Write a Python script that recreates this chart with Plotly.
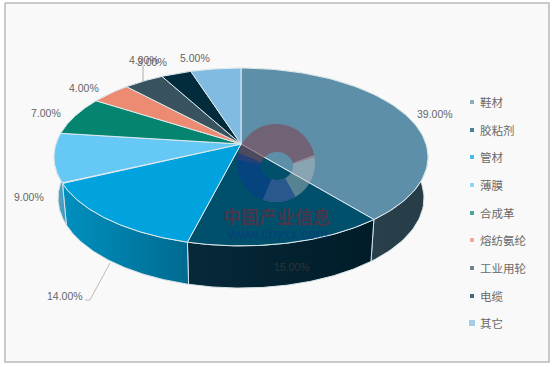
import numpy as np
import plotly.graph_objects as go

categories = ["鞋材", "胶粘剂", "管材", "薄膜", "合成革", "熔纺氨纶", "工业用轮", "电缆", "其它"]
values = [39, 15, 14, 9, 7, 4, 4, 3, 5]
top_colors = ["#5e8fa8", "#00506c", "#00a3dd", "#66c8f5", "#058570", "#ec8a72", "#38525f", "#022c3c", "#82bbe2"]
wall_left = ["#2f4a55", "#06293a", "#0090c0", "#5aa8cc", "#004466", "#aa5555", "#223344", "#001122", "#5588aa"]
wall_right = ["#263c46", "#001c28", "#006a90", "#3f98bc", "#004466", "#aa5555", "#223344", "#001122", "#5588aa"]
label_text = ["39.00%", "15.00%", "14.00%", "9.00%", "7.00%", "4.00%", "4.00%", "3.00%", "5.00%"]
label_x = [435, 292, 65, 29, 46, 84, 144, 152, 195]
label_y = [114, 267, 296, 197, 113, 88, 60, 62, 58]
legend_y = [102, 130, 157, 185, 213, 240, 268, 296, 323]

k = 0.146
APEX_X, TOP_Y, TOP_A, TOP_B = 241, 144, 185, 87
BOT_Y, BOT_A, BOT_B = 185, 181, 88


def proj(theta, y0, a, b):
    u, v = np.sin(theta), np.cos(theta)
    w = 1 + k * v
    return APEX_X + a * u / w, y0 - b * v / w


fig = go.Figure()
edges = np.cumsum([0] + values) / sum(values) * 2 * np.pi

# background frame
fig.add_trace(go.Scatter(x=[5, 549, 549, 5, 5], y=[3, 3, 362, 362, 3], mode="lines", fill="toself",
                         fillcolor="#f9f9f9", line=dict(color="#b9b9b9", width=1.5), hoverinfo="skip"))

# side walls
for i in range(len(values)):
    t = np.linspace(edges[i], edges[i + 1], 80)
    xt, yt = proj(t, TOP_Y, TOP_A, TOP_B)
    xb, yb = proj(t, BOT_Y, BOT_A, BOT_B)
    x = np.r_[xt, xb[::-1], xt[0]]
    y = np.r_[yt, yb[::-1], yt[0]]
    fig.add_trace(go.Scatter(
        x=x, y=y, mode="lines", line=dict(color="#d5e2e6", width=1), fill="toself",
        fillgradient=dict(type="horizontal", start=float(x.min()), stop=float(x.max()),
                          colorscale=[[0, wall_left[i]], [1, wall_right[i]]]),
        hoverinfo="skip"))

# top faces
for i in range(len(values)):
    t = np.linspace(edges[i], edges[i + 1], 80)
    xt, yt = proj(t, TOP_Y, TOP_A, TOP_B)
    fig.add_trace(go.Scatter(
        x=np.r_[APEX_X, xt, APEX_X], y=np.r_[TOP_Y, yt, TOP_Y], mode="lines",
        line=dict(color="#dfeaee", width=1), fill="toself", fillcolor=top_colors[i],
        name=categories[i], hoverinfo="name"))

# watermark ring
ring_parts = [(-85, 82, "rgba(125,70,85,0.6)"), (78, 200, "rgba(190,190,190,0.45)"), (150, 285, "rgba(10,60,140,0.6)")]
for a0, a1, c in ring_parts:
    t = np.radians(np.linspace(a0, a1, 60))
    xo, yo = 276 + 39 * np.sin(t), 163 - 39 * np.cos(t)
    xi, yi = 277 + 16 * np.sin(t), 166 - 14 * np.cos(t)
    fig.add_trace(go.Scatter(x=np.r_[xo, xi[::-1]], y=np.r_[yo, yi[::-1]], mode="none", fill="toself",
                             fillcolor=c, hoverinfo="skip"))

# leader lines
fig.add_trace(go.Scatter(x=[110, 90, 85], y=[263, 300, 300], mode="lines", line=dict(color="#bbb", width=1), hoverinfo="skip"))
fig.add_trace(go.Scatter(x=[143, 143], y=[66, 82], mode="lines", line=dict(color="#aaa", width=1), hoverinfo="skip"))

# legend markers
fig.add_trace(go.Scatter(x=[472] * len(categories), y=legend_y, mode="markers",
                         marker=dict(color=top_colors, symbol="square", size=[5] * 8 + [7]), hoverinfo="skip"))

annots = []
for c, y in zip(categories, legend_y):
    annots.append(dict(x=478, y=y, text=c, xanchor="left", yanchor="middle", showarrow=False,
                       font=dict(family="Noto Sans CJK SC", size=11.5, color="#6a6a6a")))
for t, x, y in zip(label_text, label_x, label_y):
    annots.append(dict(x=x, y=y, text=t, xanchor="center", yanchor="middle", showarrow=False,
                       font=dict(family="Liberation Sans", size=10.5, color="#333" if t == "15.00%" else "#666")))
annots.append(dict(x=277, y=216, text="<b>中国产业信息</b>", showarrow=False, xanchor="center", yanchor="middle",
                   font=dict(family="Noto Sans CJK SC", size=18, color="rgba(110,40,60,0.65)")))
annots.append(dict(x=277, y=234, text="www.chyxx.com", showarrow=False, xanchor="center", yanchor="middle",
                   font=dict(family="Liberation Sans", size=14, color="rgba(10,50,130,0.6)")))

fig.update_layout(
    width=554, height=367, margin=dict(l=0, r=0, t=0, b=0), showlegend=False,
    paper_bgcolor="white", plot_bgcolor="white", annotations=annots,
    xaxis=dict(range=[0, 554], visible=False, fixedrange=True),
    yaxis=dict(range=[367, 0], visible=False, fixedrange=True),
)
fig.write_html("out.html", config=dict(displayModeBar=False),
               post_script="document.body.style.margin='0';document.body.style.overflow='hidden';")
